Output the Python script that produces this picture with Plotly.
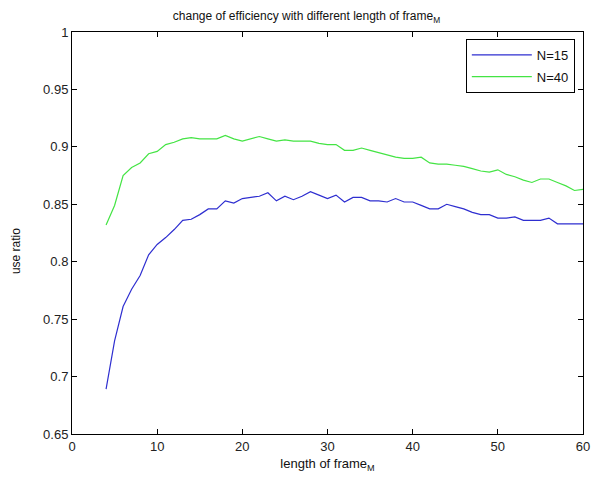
import plotly.graph_objects as go

frame_len = list(range(4, 61))
use_ratio_n15 = [0.689, 0.731, 0.761, 0.776, 0.788, 0.806, 0.815, 0.821, 0.828, 0.836,
                 0.837, 0.841, 0.846, 0.846, 0.853, 0.851, 0.855, 0.856, 0.857, 0.860,
                 0.853, 0.857, 0.854, 0.857, 0.861, 0.858, 0.855, 0.858, 0.852, 0.856,
                 0.856, 0.853, 0.853, 0.852, 0.855, 0.852, 0.852, 0.849, 0.846, 0.846,
                 0.850, 0.848, 0.846, 0.843, 0.841, 0.841, 0.838, 0.838, 0.839, 0.836,
                 0.836, 0.836, 0.838, 0.833, 0.833, 0.833, 0.833]
use_ratio_n40 = [0.832, 0.849, 0.875, 0.882, 0.886, 0.894, 0.896, 0.902, 0.904, 0.907,
                 0.908, 0.907, 0.907, 0.907, 0.910, 0.907, 0.905, 0.907, 0.909, 0.907,
                 0.905, 0.906, 0.905, 0.905, 0.905, 0.903, 0.902, 0.902, 0.897, 0.897,
                 0.899, 0.897, 0.895, 0.893, 0.891, 0.890, 0.890, 0.891, 0.886, 0.885,
                 0.885, 0.884, 0.883, 0.881, 0.879, 0.878, 0.880, 0.876, 0.874, 0.871,
                 0.869, 0.872, 0.872, 0.869, 0.866, 0.862, 0.863]
x_ticks = [0, 10, 20, 30, 40, 50, 60]
y_ticks = [0.65, 0.7, 0.75, 0.8, 0.85, 0.9, 0.95, 1]
y_tick_text = ["0.65", "0.7", "0.75", "0.8", "0.85", "0.9", "0.95", "1"]

FONT = "Liberation Sans, Arial, sans-serif"

fig = go.Figure()
fig.add_trace(go.Scatter(x=frame_len, y=use_ratio_n15, mode="lines", name="N=15",
                         legendgroup="a", line=dict(color="#2e2ed0", width=1.2)))
fig.add_trace(go.Scatter(x=frame_len, y=use_ratio_n40, mode="lines", name="N=40",
                         legendgroup="b", line=dict(color="#44e444", width=1.2)))

axis_common = dict(showline=True, linecolor="black", linewidth=1, mirror="ticks",
                   ticks="inside", ticklen=5, tickcolor="black", showgrid=False,
                   zeroline=False, automargin=False,
                   tickfont=dict(family=FONT, size=13, color="#222"))

# page body has an 8px margin, so the figure is sized to fit the 605x487 window
fig.update_layout(
    width=597, height=479,
    margin=dict(l=64, r=22, t=24, b=53),
    paper_bgcolor="white", plot_bgcolor="white",
    title=dict(text="change of efficiency with different length of frame<sub>M</sub>",
               x=0.5, xanchor="center", y=0.992, yanchor="top",
               font=dict(family=FONT, size=12, color="#111")),
    xaxis=dict(range=[0, 60], tickvals=x_ticks,
               title=dict(text="length of frame<sub>M</sub>", standoff=6,
                          font=dict(family=FONT, size=13, color="#111")),
               **axis_common),
    yaxis=dict(range=[0.65, 1], tickvals=y_ticks, ticktext=y_tick_text,
               **axis_common),
    annotations=[dict(text="use ratio", textangle=-90, xref="paper", yref="paper",
                      x=-0.1096, y=0.455, xanchor="center", yanchor="middle",
                      showarrow=False, font=dict(family=FONT, size=12, color="#111"))],
    legend=dict(x=0.984, y=0.983, xanchor="right", yanchor="top",
                bordercolor="black", borderwidth=1, bgcolor="white",
                tracegroupgap=2, itemwidth=60,
                font=dict(family=FONT, size=13, color="#111")),
    showlegend=True,
)

fig.write_html("out.html")
